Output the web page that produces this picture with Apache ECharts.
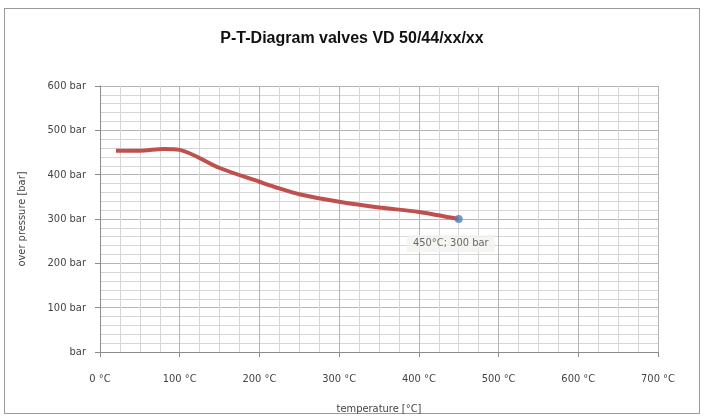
<!DOCTYPE html>
<html>
<head>
    <meta charset="utf-8">
    <script src="https://cdn.jsdelivr.net/npm/echarts@6/dist/echarts.min.js"></script>
    <title>P-T-Diagram</title>
    <style>
        html, body { margin: 0; padding: 0; background: #fff; }
        #frame { position: absolute; left: 4px; top: 8px; width: 696px; height: 406px; border: 1px solid #9a9a9a; box-sizing: border-box; }
        #main { width: 704px; height: 416px; }
    </style>
</head>
<body>
<div id="frame"></div>
<div id="main"></div>
<script type="text/javascript">
    // curve
    var temps = [20, 50, 80, 100, 150, 200, 225, 250, 300, 350, 400, 450];
    var pressures = [454, 454, 458, 456, 415, 384, 369, 356, 339, 326, 316, 300];
    // highlighted end point
    var endTemp = 450, endPressure = 300;

    var lineData = [];
    for (var i = 0; i < temps.length; i++) {
        lineData.push([temps[i], pressures[i]]);
    }

    var myChart = echarts.init(document.getElementById('main'));
    var option = {
        backgroundColor: 'transparent',
        animation: false,
        title: {
            text: 'P-T-Diagram valves VD 50/44/xx/xx',
            left: 'center',
            top: 26,
            textStyle: { fontFamily: 'Liberation Sans', fontSize: 16, fontWeight: 'bold', color: '#111' }
        },
        grid: { left: 100, right: 46, top: 86, bottom: 64, outerBoundsMode: 'none', containLabel: false },
        xAxis: {
            type: 'value',
            min: 0, max: 700, interval: 100,
            name: 'temperature [°C]',
            nameLocation: 'middle',
            nameGap: 52,
            nameTextStyle: { color: '#444', fontSize: 11, fontFamily: 'DejaVu Sans Condensed' },
            axisLine: { show: true, lineStyle: { color: '#8c8c8c' } },
            axisTick: { show: true, length: 5, lineStyle: { color: '#8c8c8c' } },
            axisLabel: {
                color: '#444', fontSize: 11, fontFamily: 'DejaVu Sans Condensed', margin: 22,
                formatter: function (v) { return v + ' °C'; }
            },
            splitLine: { show: true, lineStyle: { color: '#b4b4b4', width: 1 } },
            minorTick: { show: false, splitNumber: 4 },
            minorSplitLine: { show: true, lineStyle: { color: '#d6d6d6', width: 1 } }
        },
        yAxis: {
            type: 'value',
            min: 0, max: 600, interval: 100,
            name: 'over pressure [bar]',
            nameLocation: 'middle',
            nameGap: 72,
            nameTextStyle: { color: '#444', fontSize: 11, fontFamily: 'DejaVu Sans Condensed' },
            axisLine: { show: true, lineStyle: { color: '#8c8c8c' } },
            axisTick: { show: true, length: 5, lineStyle: { color: '#8c8c8c' } },
            axisLabel: {
                color: '#444', fontSize: 11, fontFamily: 'DejaVu Sans Condensed', margin: 14,
                formatter: function (v) { return v === 0 ? 'bar' : v + ' bar'; }
            },
            splitLine: { show: true, lineStyle: { color: '#b4b4b4', width: 1 } },
            minorTick: { show: false, splitNumber: 5 },
            minorSplitLine: { show: true, lineStyle: { color: '#d6d6d6', width: 1 } }
        },
        series: [{
            type: 'line',
            data: lineData,
            smooth: 0.3,
            showSymbol: false,
            lineStyle: { color: '#c0504d', width: 4 },
            z: 3
        }, {
            type: 'scatter',
            data: [[endTemp, endPressure]],
            symbolSize: 8,
            itemStyle: { color: '#4f81bd' },
            z: 4,
            label: {
                show: true,
                position: 'bottom',
                distance: 12,
                offset: [-8, 0],
                color: '#444',
                fontSize: 11,
                fontFamily: 'DejaVu Sans Condensed',
                backgroundColor: '#f2f2ee',
                padding: [3, 6],
                formatter: function (p) { return p.value[0] + '°C; ' + p.value[1] + ' bar'; }
            }
        }]
    };
    myChart.setOption(option);
</script>
</body>
</html>
